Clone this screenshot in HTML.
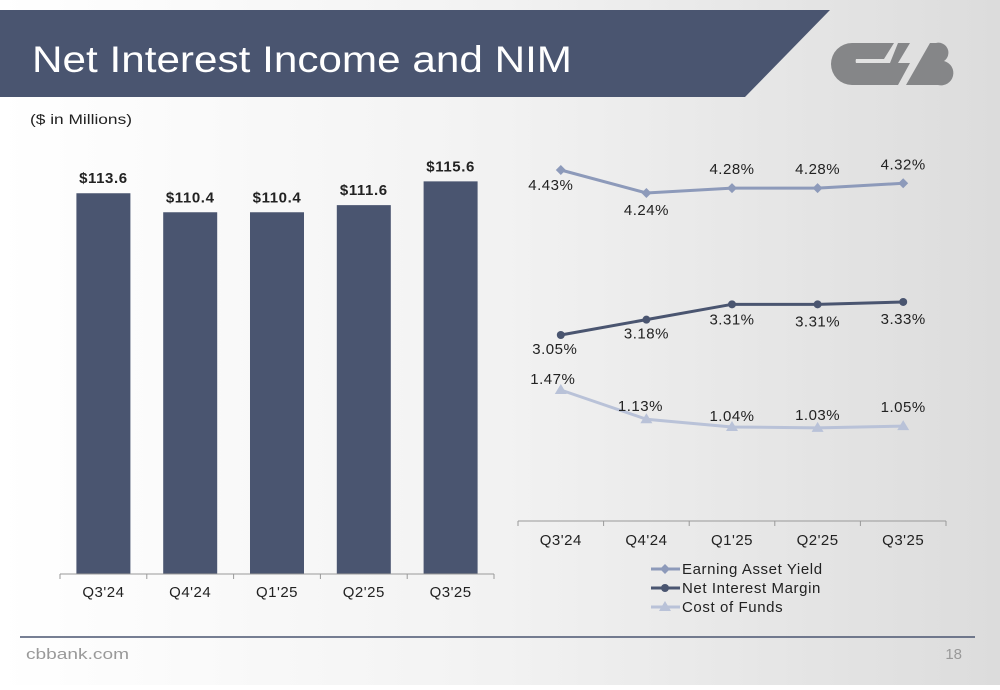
<!DOCTYPE html>
<html><head><meta charset="utf-8"><style>
body{margin:0;width:1000px;height:685px;overflow:hidden;font-family:"Liberation Sans",sans-serif;}
#slide{position:relative;width:1000px;height:685px;background:linear-gradient(90deg,#ffffff 0%,#f2f2f2 50%,#dcdcdc 100%);}
svg text{font-family:"Liberation Sans",sans-serif;}
</style></head><body>
<div id="slide">
<svg width="1000" height="685">
<polygon points="0,10 830,10 745,97 0,97" fill="#4a5570"/>
<text x="32" y="72" font-size="37" fill="#fff" textLength="540" lengthAdjust="spacingAndGlyphs">Net Interest Income and NIM</text>
<g fill="#858688">
<path d="M852,43 h42 l-10,16 h-28 a6,6 0 0 0 0,4 h54 l-12,22 h-46 a21,21 0 0 1 0,-42z"/>
<path d="M898,43 h12 l-12,20 h-8z"/>
<path d="M906,85 l24,-42 h6 a10,10 0 0 1 8,18 a12,12 0 0 1 -6,24 z"/>
</g>
<text x="30" y="124" font-size="14" fill="#222" textLength="102" lengthAdjust="spacingAndGlyphs">($ in Millions)</text>
<g id="bars"></g>
<g id="lines"></g>
<line x1="20" y1="637" x2="975" y2="637" stroke="#4a5570" stroke-width="1.5"/>
<text x="26" y="659" font-size="15" fill="#999" textLength="103" lengthAdjust="spacingAndGlyphs">cbbank.com</text>
<text x="962" y="659" font-size="15" fill="#999" text-anchor="end">18</text>
</svg>
</div>
<script>
const quarters=["Q3'24","Q4'24","Q1'25","Q2'25","Q3'25"];
const nii=[113.6,110.4,110.4,111.6,115.6];
const niiLabels=["$113.6","$110.4","$110.4","$111.6","$115.6"];
const eay=[4.43,4.24,4.28,4.28,4.32];
const nim=[3.05,3.18,3.31,3.31,3.33];
const cof=[1.47,1.13,1.04,1.03,1.05];
const NS="http://www.w3.org/2000/svg";
function mk(p,tag,a,txt){const e=document.createElementNS(NS,tag);for(const k in a)e.setAttribute(k,a[k]);if(txt!=null)e.textContent=txt;p.appendChild(e);return e;}
const bg=document.getElementById('bars');
const bx0=60,bx1=494,bBase=574,bw=(bx1-bx0)/5;
const byScale=v=>bBase-(v-49.5)*5.94;
nii.forEach((v,i)=>{
 const cx=bx0+bw*(i+0.5),y=byScale(v);
 const r=mk(bg,'rect',{x:cx-27,y:y,width:54,height:bBase-y,fill:'#4a5570'});
 
 
 const t=mk(bg,'text',{x:cx,y:y-10,'font-size':15,'font-weight':'bold','text-anchor':'middle',fill:'#222','letter-spacing':'0.6'},niiLabels[i]);
 
 
 const q=mk(bg,'text',{x:cx,y:597,'font-size':15,'text-anchor':'middle',fill:'#222','letter-spacing':'0.5'},quarters[i]);
 
 
});
const bax=mk(bg,'line',{x1:bx0,y1:bBase,x2:bx1,y2:bBase,stroke:'#999'});


for(let i=0;i<=5;i++)mk(bg,'line',{x1:bx0+bw*i,y1:bBase,x2:bx0+bw*i,y2:bBase+5,stroke:'#999'});
const lg=document.getElementById('lines');
const lx0=518,lx1=946,lw=(lx1-lx0)/5,lax=521;
const lxs=i=>lx0+lw*(i+0.5);
const series=[
 {name:'earning-asset-yield',label:'Earning Asset Yield',d:eay,color:'#8d9aba',mark:'diamond',y:v=>170-(v-4.43)*121,off:[20,22,-14,-14,-14],dx:[-10,0,0,0,0]},
 {name:'net-interest-margin',label:'Net Interest Margin',d:nim,color:'#4a5570',mark:'circle',y:v=>335-(v-3.05)*118,off:[19,19,20,22,22],dx:[-6,0,0,0,0]},
 {name:'cost-of-funds',label:'Cost of Funds',d:cof,color:'#b9c2d8',mark:'tri',y:v=>390-(v-1.47)*86,off:[-6,-8,-6,-8,-14],dx:[-8,-6,0,0,0]}
];
function marker(p,type,x,y,c){
 if(type==='circle')return mk(p,'circle',{cx:x,cy:y,r:4,fill:c});
 if(type==='diamond')return mk(p,'polygon',{points:`${x},${y-5} ${x+5},${y} ${x},${y+5} ${x-5},${y}`,fill:c});
 return mk(p,'polygon',{points:`${x},${y-6} ${x+6},${y+4} ${x-6},${y+4}`,fill:c});
}
series.forEach(s=>{
 const pts=s.d.map((v,i)=>lxs(i)+','+s.y(v)).join(' ');
 const pl=mk(lg,'polyline',{points:pts,fill:'none',stroke:s.color,'stroke-width':3});
 
 
 s.d.forEach((v,i)=>{
  const m=marker(lg,s.mark,lxs(i),s.y(v),s.color);
  
  
  const t=mk(lg,'text',{x:lxs(i)+s.dx[i],y:s.y(v)+s.off[i],'font-size':15,'text-anchor':'middle',fill:'#222','letter-spacing':'0.5'},v.toFixed(2)+'%');
  
  
 });
});
const lxa=mk(lg,'line',{x1:lx0,y1:lax,x2:lx1,y2:lax,stroke:'#999'});


for(let i=0;i<=5;i++)mk(lg,'line',{x1:lx0+lw*i,y1:lax,x2:lx0+lw*i,y2:lax+5,stroke:'#999'});
quarters.forEach((q,i)=>{
 const t=mk(lg,'text',{x:lxs(i),y:545,'font-size':15,'text-anchor':'middle',fill:'#222','letter-spacing':'0.5'},q);
 
 
});
series.forEach((s,k)=>{
 const y=569+k*19;
 const g=mk(lg,'g',{});
 
 
 mk(g,'line',{x1:651,y1:y,x2:680,y2:y,stroke:s.color,'stroke-width':3});
 marker(g,s.mark,665,y,s.color);
 mk(g,'text',{x:682,y:y+5,'font-size':15,fill:'#222','letter-spacing':'0.6'},s.label);
});
</script>
</body></html>
